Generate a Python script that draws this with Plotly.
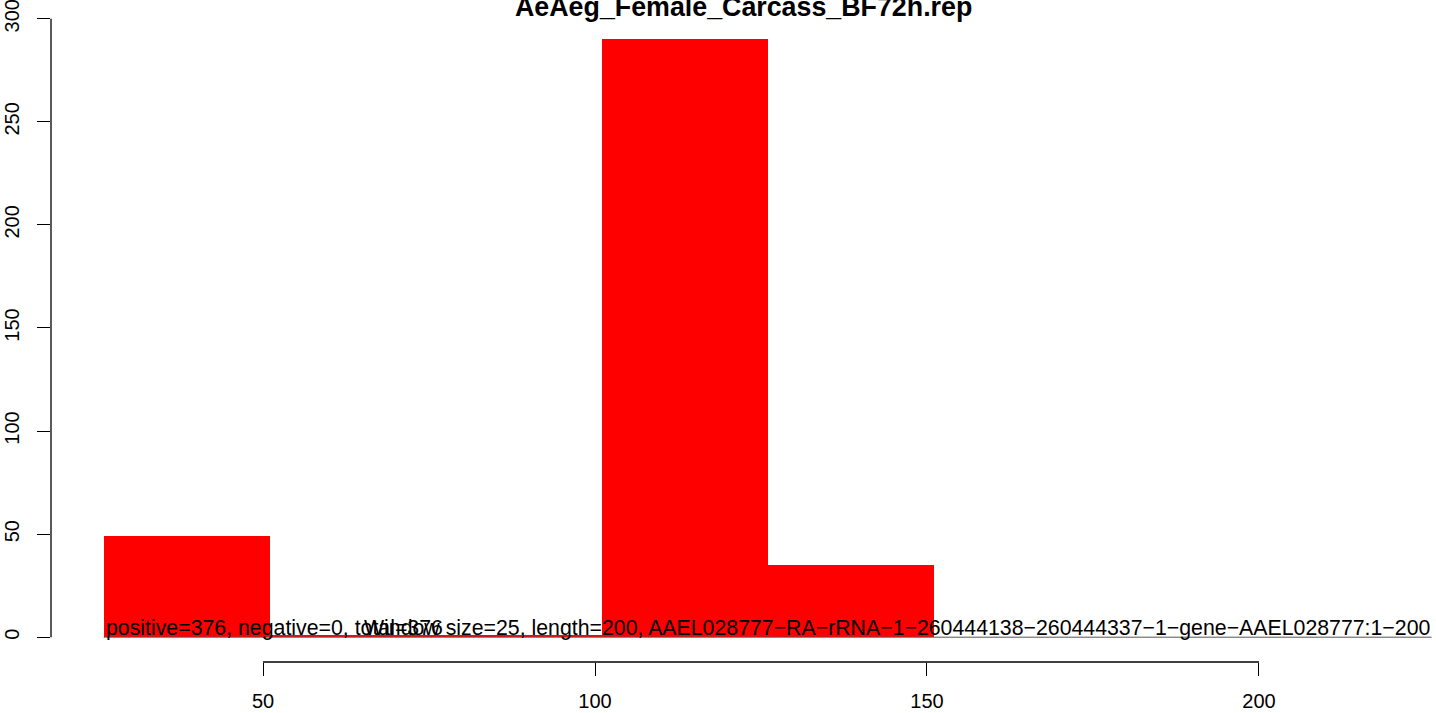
import plotly.graph_objects as go

title = "AeAeg_Female_Carcass_BF72h.rep"
window_starts = [26, 51, 76, 101, 126, 151, 176, 201]
window_size = 25
positive_counts = [49, 1, 1, 290, 35, 0, 0, 0]
negative_counts = [0, 0, 0, 0, 0, 0, 0, 0]
x_ticks = [50, 100, 150, 200]
y_ticks = [0, 50, 100, 150, 200, 250, 300]
summary_text = "positive=376, negative=0, total=376"
info_text = ("Window size=25, length=200, AAEL028777\u2212RA\u2212rRNA\u22121\u2212260444138"
             "\u2212260444337\u22121\u2212gene\u2212AAEL028777:1\u2212200")

FONT = "Liberation Sans, Arial, Helvetica, sans-serif"

centers = [s + window_size / 2 for s in window_starts]
line_x = [window_starts[0], window_starts[-1] + window_size]

fig = go.Figure()
fig.add_trace(go.Scatter(x=line_x, y=[negative_counts[0], negative_counts[-1]], mode="lines",
                         line=dict(color="#555555", width=1), hoverinfo="skip", showlegend=False))
fig.add_trace(go.Bar(x=centers, y=positive_counts, width=[window_size] * len(centers),
                     marker=dict(color="#FF0000", line=dict(width=0)), showlegend=False))

# axis lines spanning only the tick range (R style)
fig.add_shape(type="line", xref="x", yref="paper", x0=x_ticks[0], x1=x_ticks[-1], y0=0, y1=0,
              line=dict(color="black", width=1.3))
fig.add_shape(type="line", xref="paper", yref="y", x0=0, x1=0, y0=y_ticks[0], y1=y_ticks[-1],
              line=dict(color="black", width=1.3))

fig.add_annotation(x=window_starts[0], y=0, xref="x", yref="y", text=summary_text,
                   showarrow=False, xanchor="left", yanchor="bottom", yshift=-5,
                   font=dict(family=FONT, size=21.3, color="black"))
fig.add_annotation(x=window_starts[-1] + window_size, y=0, xref="x", yref="y", text=info_text,
                   showarrow=False, xanchor="right", yanchor="bottom", yshift=-5,
                   font=dict(family=FONT, size=21.3, color="black"))
fig.add_annotation(x=0.5, y=1, xref="paper", yref="paper", text="<b>" + title + "</b>",
                   showarrow=False, xanchor="center", yanchor="top", yshift=10,
                   font=dict(family=FONT, size=26.8, color="black"))

fig.update_layout(
    width=1436, height=713,
    margin=dict(l=51, r=0, t=0, b=51, autoexpand=False),
    paper_bgcolor="white", plot_bgcolor="white",
    bargap=0,
    font=dict(family=FONT, size=20, color="black"),
    xaxis=dict(range=[18.07, 226.66], tickvals=x_ticks, ticktext=[str(v) for v in x_ticks],
               ticks="outside", ticklen=13, tickwidth=1.3, tickcolor="black",
               ticklabelstandoff=8, ticklabeloverflow="allow",
               showgrid=False, zeroline=False, showline=False, automargin=False,
               tickfont=dict(family=FONT, size=20, color="black")),
    yaxis=dict(range=[-12.03, 309.1], tickvals=y_ticks, ticktext=[str(v) for v in y_ticks],
               ticks="outside", ticklen=13, tickwidth=1.3, tickcolor="black", tickangle=-90,
               ticklabelstandoff=10, ticklabeloverflow="allow",
               showgrid=False, zeroline=False, showline=False, automargin=False,
               tickfont=dict(family=FONT, size=20, color="black")),
)

fig.write_html("out.html", config={"displayModeBar": False},
               post_script="document.body.style.margin='0';document.body.style.overflow='hidden';")
